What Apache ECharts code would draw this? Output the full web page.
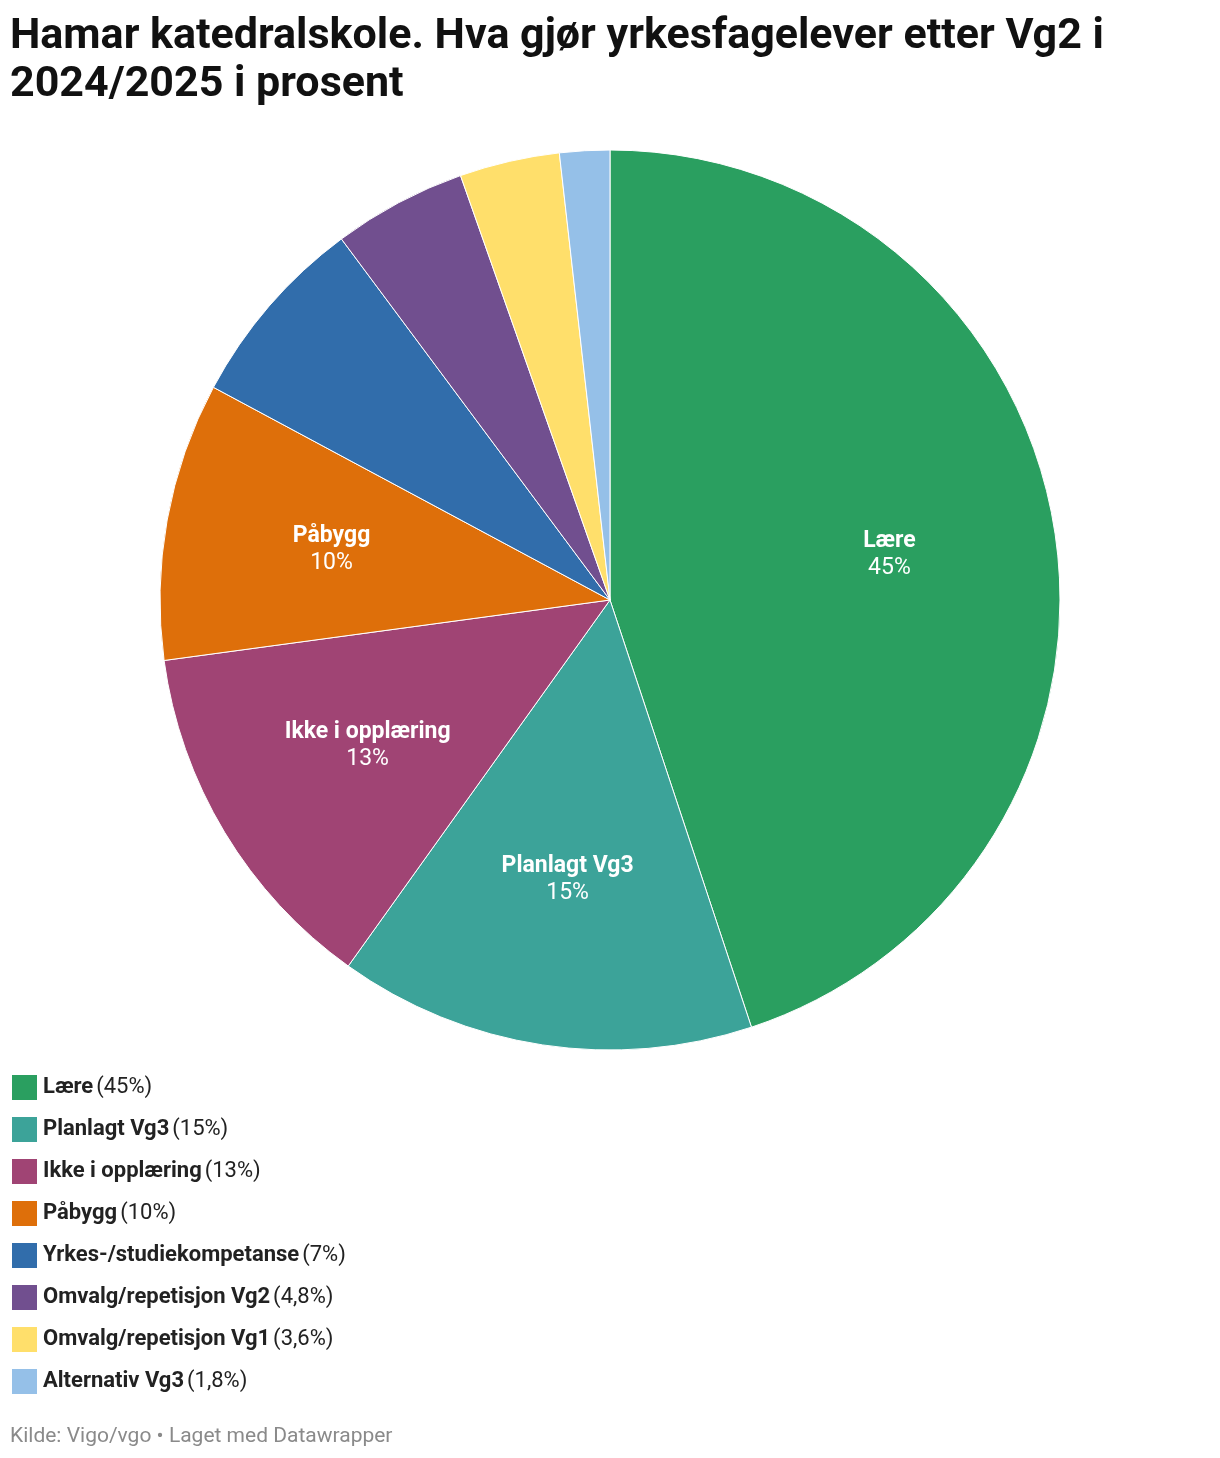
<!DOCTYPE html>
<html><head><meta charset="utf-8">
<script src="https://cdn.jsdelivr.net/npm/echarts@6/dist/echarts.min.js"></script>
<style>html,body{margin:0;padding:0;background:#fff}#c{width:1220px;height:1458px}</style>
</head><body><div id="c"></div>
<script>
const categories = ["Lære","Planlagt Vg3","Ikke i opplæring","Påbygg","Yrkes-/studiekompetanse","Omvalg/repetisjon Vg2","Omvalg/repetisjon Vg1","Alternativ Vg3"];
const values = [45,15,13,10,7,4.8,3.6,1.8];
const labelsShown = [true,true,true,true,false,false,false,false];
const colors = ["#2a9f60","#3ca399","#a04474","#de6f0a","#316dab","#714f8f","#ffdf6b","#95c0e8"];
const fmt = v => String(v).replace('.',',') + '%';
const chart = echarts.init(document.getElementById('c'));
const font = 'Roboto, "Noto Sans", sans-serif';
chart.setOption({
  animation:false,
  textStyle:{fontFamily:font},
  title:[{text:'Hamar katedralskole. Hva gjør yrkesfagelever etter Vg2 i\n2024/2025 i prosent',left:5,top:8,
    textStyle:{fontSize:43,fontWeight:'bold',color:'#111',lineHeight:48,fontFamily:font}},
    {text:'Kilde: Vigo/vgo • Laget med Datawrapper',left:5,top:1421,textStyle:{fontSize:21,fontWeight:'normal',color:'#8a8a8a',fontFamily:font}}],
  legend:{orient:'vertical',left:5,top:1068,itemWidth:27,itemHeight:27,itemGap:13,icon:'rect',
    data:categories,
    formatter:n=>'{b|'+n+'} {n|('+fmt(values[categories.indexOf(n)])+')}',
    textStyle:{rich:{b:{fontSize:22,fontWeight:'bold',color:'#222',fontFamily:font},n:{fontSize:22,color:'#222',fontFamily:font}}}},
  series:[{type:'pie',radius:[0,450],center:[610,600],startAngle:90,clockwise:true,silent:true,
    itemStyle:{borderColor:'#fff',borderWidth:1},label:{show:false},labelLine:{show:false},
    data:categories.map((c,i)=>({name:c,value:values[i],itemStyle:{color:colors[i]}}))},
   {type:'pie',radius:[250,310],center:[610,600],startAngle:90,clockwise:true,silent:true,legendHoverLink:false,
    itemStyle:{color:'rgba(0,0,0,0)'},labelLine:{show:false},
    label:{position:'inside',
      rich:{b:{fontSize:23,fontWeight:'bold',color:'#fff',lineHeight:27,fontFamily:font},n:{fontSize:23,color:'#fff',lineHeight:27,fontFamily:font}}},
    data:categories.map((c,i)=>({name:c+' ',value:values[i],label:{show:labelsShown[i],formatter:'{b|'+c+'}\n{n|'+fmt(values[i])+'}'}}))}
  ]
});
</script></body></html>
